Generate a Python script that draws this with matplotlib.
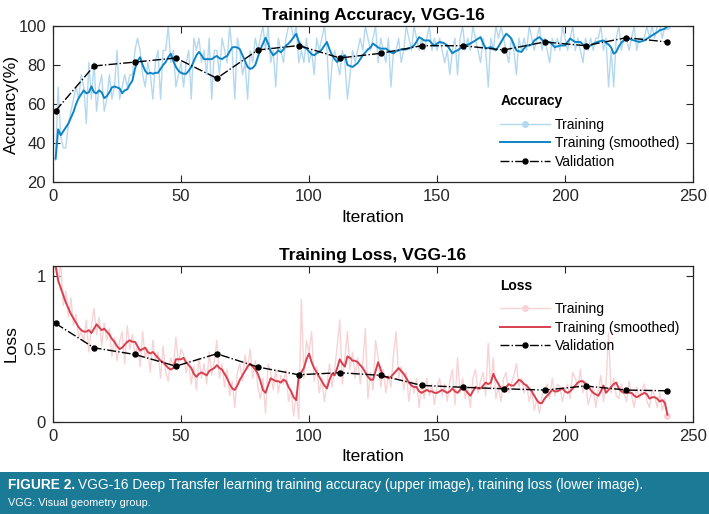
import matplotlib
matplotlib.use("Agg")
import matplotlib.pyplot as plt
import numpy as np
from matplotlib.patches import Rectangle

plt.rcParams['font.family'] = ['Liberation Sans', 'DejaVu Sans']

# --- data ---
iterations = np.arange(1, 241)
val_iters = [1, 16, 32, 48, 64, 80, 96, 112, 128, 144, 160, 176, 192, 208, 224, 240]

acc_raw = [
    31.25, 68.75, 43.75, 37.5, 37.5, 50, 56.25, 62.5, 68.75, 62.5,
    75, 68.75, 50, 81.25, 62.5, 81.25, 56.25, 68.75, 75, 56.25,
    62.5, 75, 62.5, 68.75, 87.5, 62.5, 68.75, 75, 68.75, 75,
    75, 87.5, 93.75, 87.5, 75, 68.75, 81.25, 75, 62.5, 81.25,
    87.5, 62.5, 87.5, 87.5, 100, 81.25, 87.5, 68.75, 75, 81.25,
    68.75, 81.25, 87.5, 62.5, 93.75, 87.5, 93.75, 81.25, 87.5, 75,
    93.75, 62.5, 87.5, 87.5, 75, 93.75, 87.5, 81.25, 100, 87.5,
    62.5, 93.75, 87.5, 75, 81.25, 62.5, 87.5, 81.25, 93.75, 87.5,
    93.75, 100, 87.5, 100, 81.25, 87.5, 68.75, 93.75, 87.5, 81.25,
    93.75, 100, 100, 93.75, 100, 81.25, 87.5, 81.25, 93.75, 81.25,
    87.5, 75, 93.75, 87.5, 93.75, 100, 87.5, 62.5, 81.25, 87.5,
    81.25, 75, 87.5, 81.25, 62.5, 75, 87.5, 81.25, 87.5, 93.75,
    87.5, 100, 93.75, 87.5, 93.75, 100, 81.25, 93.75, 87.5, 81.25,
    93.75, 68.75, 87.5, 87.5, 93.75, 81.25, 87.5, 100, 93.75, 87.5,
    100, 93.75, 87.5, 93.75, 87.5, 93.75, 100, 87.5, 93.75, 87.5,
    93.75, 87.5, 81.25, 87.5, 75, 87.5, 93.75, 75, 93.75, 100,
    87.5, 93.75, 87.5, 100, 93.75, 87.5, 81.25, 93.75, 87.5, 68.75,
    93.75, 87.5, 100, 93.75, 100, 93.75, 87.5, 81.25, 93.75, 87.5,
    75, 93.75, 87.5, 93.75, 87.5, 100, 93.75, 87.5, 93.75, 100,
    87.5, 93.75, 87.5, 81.25, 93.75, 87.5, 93.75, 87.5, 100, 93.75,
    87.5, 93.75, 100, 87.5, 93.75, 87.5, 81.25, 93.75, 87.5, 93.75,
    87.5, 93.75, 93.75, 100, 87.5, 93.75, 68.75, 87.5, 68.75, 93.75,
    100, 87.5, 93.75, 93.75, 87.5, 93.75, 100, 87.5, 93.75, 93.75,
    93.75, 100, 93.75, 100, 93.75, 100, 100, 93.75, 100, 100,
]

acc_smooth = [
    32, 47, 44, 46, 48, 50, 53, 56, 60, 63,
    65, 67, 65.5, 66, 69, 66, 65.5, 67, 66, 63,
    64, 66, 68.5, 69, 68.5, 68, 65.5, 67, 67.5, 70,
    72, 78, 82, 84, 80, 77, 75.5, 76, 75.5, 76,
    76, 78, 80, 81.5, 84, 85.8, 82, 79, 77, 76,
    75.5, 75.5, 77, 79, 82, 85, 86.7, 85, 83, 83,
    83, 83, 84, 84.6, 83.5, 83, 84, 84.6, 87, 89,
    89.2, 89, 88, 85, 82, 79, 78, 78.5, 80, 84,
    88, 91, 94, 91, 87, 85, 86, 87.5, 86.5, 88,
    90, 91, 92.5, 94.3, 96, 92, 90, 89, 88.4, 87,
    85.5, 85, 86, 86.7, 88, 90, 91.8, 88, 85, 83,
    81.5, 83, 84, 85, 80, 79.5, 79, 80, 81, 83,
    85, 86.5, 88, 89, 91, 90, 89, 88.4, 88.4, 88.4,
    87.5, 86.5, 86, 87, 87.5, 88, 88, 88, 88.5, 89,
    90, 92, 94.3, 93.5, 92.6, 92.6, 92.6, 91, 90, 91,
    91.8, 91.5, 91, 90, 88, 86, 87, 87.5, 88.5, 89,
    90, 90.5, 91, 91.8, 92.6, 93.5, 94.3, 91, 88.4, 88.8,
    89.2, 88.5, 87.5, 89.5, 91.8, 94, 96, 95, 93.6, 90.5,
    87.5, 87, 86.7, 88.5, 90, 90, 90.5, 92.6, 93.5, 94.3,
    93, 91.8, 91.8, 91.8, 90.5, 89.2, 89.5, 90, 90, 90,
    91.8, 93.6, 92.6, 91.8, 91.8, 91.8, 90.5, 89.2, 89.6, 90,
    90.8, 91.5, 92, 92.3, 92.6, 91.5, 90.5, 89, 85.8, 86.7,
    89.5, 91.5, 92.6, 93.2, 93.6, 93, 92.6, 92.2, 91.8, 92.2,
    92.6, 93.5, 94.3, 95.2, 96, 96.8, 97.8, 98.2, 98.6, 100,
]

acc_val = [56.5, 79.5, 81.5, 83.6, 73.2, 87.7, 90, 83.6, 86, 89.9,
           89.9, 87.7, 91.8, 89.9, 94, 91.8]

loss_raw = [
    1.20, 0.95, 1.10, 0.80, 0.90, 0.72, 0.85, 0.66, 0.74, 0.58,
    0.62, 0.55, 0.70, 0.48, 0.66, 0.78, 0.60, 0.72, 0.52, 0.68,
    0.56, 0.64, 0.45, 0.58, 0.42, 0.55, 0.62, 0.40, 0.66, 0.50,
    0.60, 0.46, 0.52, 0.38, 0.62, 0.44, 0.50, 0.34, 0.56, 0.42,
    0.48, 0.30, 0.52, 0.34, 0.28, 0.44, 0.38, 0.58, 0.40, 0.50,
    0.46, 0.34, 0.42, 0.26, 0.38, 0.22, 0.44, 0.30, 0.40, 0.26,
    0.48, 0.32, 0.42, 0.56, 0.30, 0.40, 0.24, 0.36, 0.18, 0.28,
    0.10, 0.34, 0.40, 0.28, 0.46, 0.36, 0.50, 0.30, 0.42, 0.24,
    0.16, 0.30, 0.06, 0.40, 0.34, 0.22, 0.36, 0.20, 0.32, 0.26,
    0.36, 0.14, 0.22, 0.04, 0.20, 0.02, 0.84, 0.30, 0.56, 0.48,
    0.62, 0.28, 0.38, 0.20, 0.30, 0.14, 0.26, 0.40, 0.24, 0.36,
    0.52, 0.70, 0.26, 0.44, 0.62, 0.36, 0.48, 0.30, 0.44, 0.26,
    0.40, 0.64, 0.16, 0.34, 0.22, 0.56, 0.44, 0.24, 0.36, 0.20,
    0.32, 0.24, 0.46, 0.62, 0.30, 0.38, 0.22, 0.34, 0.14, 0.28,
    0.20, 0.30, 0.10, 0.26, 0.16, 0.30, 0.18, 0.26, 0.12, 0.24,
    0.30, 0.18, 0.26, 0.14, 0.28, 0.36, 0.12, 0.44, 0.20, 0.30,
    0.16, 0.24, 0.10, 0.30, 0.36, 0.20, 0.28, 0.34, 0.18, 0.54,
    0.22, 0.44, 0.16, 0.24, 0.14, 0.30, 0.34, 0.20, 0.26, 0.32,
    0.40, 0.24, 0.30, 0.20, 0.26, 0.14, 0.22, 0.08, 0.16, 0.06,
    0.18, 0.22, 0.26, 0.16, 0.30, 0.18, 0.26, 0.24, 0.14, 0.22,
    0.26, 0.16, 0.34, 0.30, 0.24, 0.36, 0.20, 0.28, 0.12, 0.18,
    0.24, 0.10, 0.22, 0.32, 0.14, 0.26, 0.61, 0.20, 0.30, 0.18,
    0.16, 0.26, 0.20, 0.14, 0.28, 0.18, 0.10, 0.24, 0.16, 0.22,
    0.26, 0.14, 0.10, 0.22, 0.18, 0.10, 0.20, 0.08, 0.16, 0.04,
]

loss_smooth = [
    1.07, 0.97, 0.92, 0.87, 0.82, 0.78, 0.74, 0.71, 0.68, 0.65,
    0.63, 0.62, 0.62, 0.63, 0.61, 0.64, 0.67, 0.65, 0.63, 0.64,
    0.62, 0.60, 0.57, 0.55, 0.52, 0.50, 0.51, 0.53, 0.55, 0.56,
    0.55, 0.55, 0.52, 0.49, 0.50, 0.51, 0.48, 0.47, 0.48, 0.46,
    0.44, 0.42, 0.41, 0.39, 0.37, 0.36, 0.37, 0.43, 0.43, 0.43,
    0.44, 0.41, 0.39, 0.37, 0.33, 0.31, 0.33, 0.34, 0.33, 0.32,
    0.35, 0.36, 0.37, 0.39, 0.37, 0.36, 0.33, 0.30, 0.26, 0.23,
    0.22, 0.25, 0.29, 0.32, 0.35, 0.38, 0.40, 0.38, 0.36, 0.33,
    0.28, 0.22, 0.20, 0.25, 0.30, 0.29, 0.28, 0.28, 0.27, 0.29,
    0.28, 0.24, 0.21, 0.17, 0.15, 0.32, 0.34, 0.37, 0.43, 0.47,
    0.41, 0.37, 0.34, 0.31, 0.28, 0.25, 0.23, 0.29, 0.33, 0.32,
    0.37, 0.43, 0.40, 0.38, 0.45, 0.44, 0.42, 0.42, 0.41, 0.39,
    0.37, 0.34, 0.31, 0.29, 0.29, 0.35, 0.41, 0.36, 0.31, 0.31,
    0.30, 0.31, 0.33, 0.35, 0.37, 0.35, 0.33, 0.30, 0.27, 0.25,
    0.24, 0.24, 0.21, 0.20, 0.21, 0.22, 0.21, 0.21, 0.20, 0.20,
    0.21, 0.22, 0.21, 0.20, 0.21, 0.23, 0.21, 0.20, 0.22, 0.24,
    0.22, 0.20, 0.18, 0.21, 0.24, 0.23, 0.23, 0.25, 0.27, 0.26,
    0.27, 0.33, 0.29, 0.26, 0.23, 0.22, 0.24, 0.26, 0.25, 0.25,
    0.27, 0.29, 0.28, 0.26, 0.25, 0.23, 0.21, 0.18, 0.15, 0.13,
    0.13, 0.16, 0.18, 0.20, 0.22, 0.21, 0.21, 0.22, 0.23, 0.21,
    0.20, 0.21, 0.23, 0.25, 0.27, 0.28, 0.28, 0.26, 0.25, 0.22,
    0.20, 0.19, 0.18, 0.21, 0.25, 0.20, 0.22, 0.24, 0.26, 0.27,
    0.23, 0.21, 0.20, 0.21, 0.20, 0.20, 0.18, 0.17, 0.18, 0.19,
    0.20, 0.19, 0.16, 0.17, 0.17, 0.16, 0.14, 0.15, 0.13, 0.05,
]

loss_val = [0.676, 0.509, 0.463, 0.383, 0.468, 0.377, 0.324, 0.338,
            0.32, 0.251, 0.238, 0.228, 0.219, 0.247, 0.219, 0.214]

# --- styling ---
acc_light, acc_dark = '#b3d8ef', '#0d84c6'
loss_light, loss_dark = '#f7d3d5', '#d8404f'
caption_bg = '#1b7b96'


def style_axes(ax, ylabel, ylim, yticks, yticklabels, title):
    ax.set_xlim(0, 250)
    ax.set_ylim(*ylim)
    ax.set_xticks([0, 50, 100, 150, 200, 250])
    ax.set_yticks(yticks)
    ax.set_yticklabels(yticklabels)
    ax.tick_params(direction='in', top=True, right=True, length=5,
                   labelsize=12, colors='#262626', width=0.8, pad=5)
    for s in ax.spines.values():
        s.set_color('#262626')
        s.set_linewidth(0.9)
    ax.set_xlabel('Iteration', fontsize=12.5, labelpad=4)
    ax.set_ylabel(ylabel, fontsize=12.5)
    ax.yaxis.set_label_coords(-0.054, 0.5)
    ax.set_title(title, fontsize=12.5, fontweight='bold', pad=4)


def draw_panel(ax, raw, smooth, val, light, dark, legend_title, anchor):
    ax.plot(iterations, raw, color=light, lw=1.0, marker='o', ms=4,
            markevery=[len(raw) - 1], label='Training')
    ax.plot(iterations, smooth, color=dark, lw=1.4, label='Training (smoothed)')
    ax.plot(val_iters, val, color='black', lw=1.0, ls='-.', marker='o', ms=3.6,
            label='Validation')
    leg = ax.legend(loc='upper left', bbox_to_anchor=anchor, frameon=False,
                    fontsize=10, title=legend_title, alignment='left',
                    handlelength=3.6, handletextpad=0.35, labelspacing=0.32,
                    borderaxespad=0)
    leg.get_title().set_fontweight('bold')
    leg.get_title().set_fontsize(10)
    leg._legend_box.sep = 7


fig = plt.figure(figsize=(7.09, 5.14), dpi=100)

ax1 = fig.add_axes([0.0748, 0.6459, 0.9027, 0.3035])
draw_panel(ax1, acc_raw, acc_smooth, acc_val, acc_light, acc_dark,
           'Accuracy', (0.69, 0.60))
style_axes(ax1, 'Accuracy(%)', (20, 100), [20, 40, 60, 80, 100],
           ['20', '40', '60', '80', '100'], 'Training Accuracy, VGG-16')

ax2 = fig.add_axes([0.0748, 0.179, 0.9027, 0.3035])
draw_panel(ax2, loss_raw, loss_smooth, loss_val, loss_light, loss_dark,
           'Loss', (0.69, 0.955))
style_axes(ax2, 'Loss', (0, 1.07), [0, 0.5, 1], ['0', '0.5', '1'],
           'Training Loss, VGG-16')

# caption band
fig.patches.append(Rectangle((0, 0), 1, 42 / 514, transform=fig.transFigure,
                             facecolor=caption_bg, edgecolor='none', zorder=0))
t1 = fig.text(8 / 709, 1 - 485 / 514, 'FIGURE 2.', color='white', fontsize=9.9,
              fontweight='bold', va='center', ha='left')
fig.canvas.draw()
bb = t1.get_window_extent(renderer=fig.canvas.get_renderer())
fig.text(bb.x1 / fig.bbox.width + 3 / 709, 1 - 485 / 514,
         'VGG-16 Deep Transfer learning training accuracy (upper image), '
         'training loss (lower image).',
         color='white', fontsize=9.9, va='center', ha='left')
fig.text(8 / 709, 1 - 503 / 514, 'VGG: Visual geometry group.', color='white',
         fontsize=7.8, va='center', ha='left')

fig.savefig('out.png', dpi=100)
